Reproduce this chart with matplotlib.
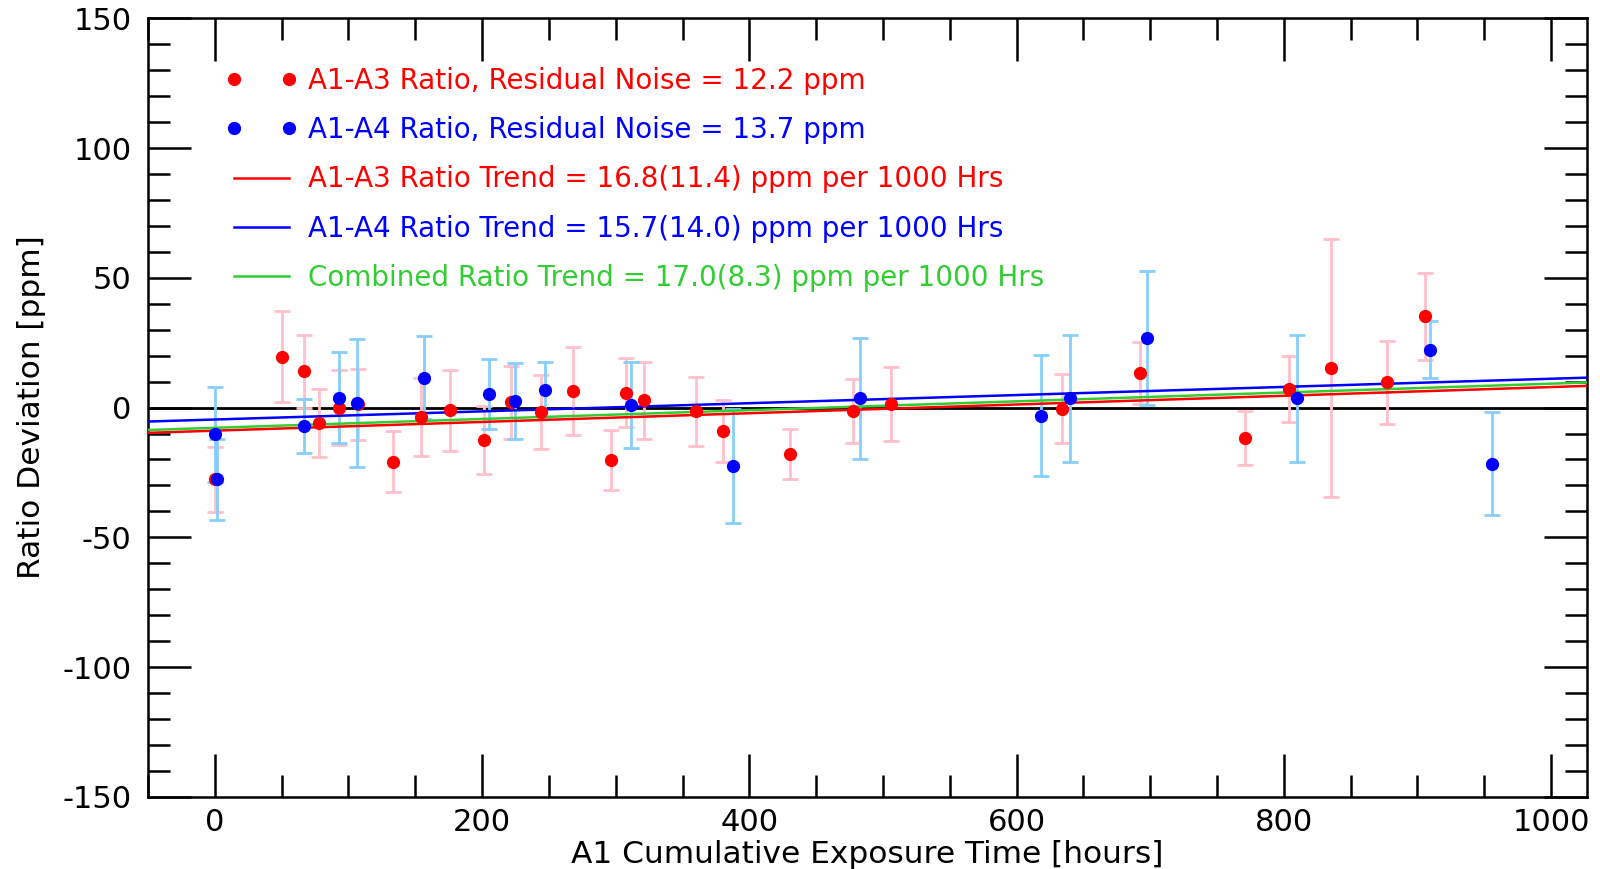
import matplotlib
matplotlib.use("Agg")
import matplotlib.pyplot as plt
import numpy as np
from matplotlib.ticker import MultipleLocator
from matplotlib.legend_handler import HandlerLine2D
from matplotlib.lines import Line2D

plt.rcParams['axes.unicode_minus'] = False

# A1-A3 ratio points (hours, ppm, 1-sigma)
a3_hours = [0.5, 50.4, 67.1, 77.8, 93.3, 107.0, 133.7, 154.4, 175.8, 201.3, 221.7,
            244.4, 268.1, 296.3, 307.5, 321.2, 359.9, 380.6, 430.5, 477.4, 506.0,
            633.7, 692.7, 770.6, 803.5, 835.6, 877.1, 905.3]
a3_dev = [-27.7, 19.6, 14.0, -5.9, 0.0, 1.3, -20.8, -3.7, -1.0, -12.5, 2.0,
          -1.7, 6.4, -20.2, 5.8, 2.8, -1.4, -9.1, -17.9, -1.4, 1.4,
          -0.4, 13.2, -11.7, 7.3, 15.3, 9.8, 35.1]
a3_err = [12.6, 17.6, 14.0, 13.0, 14.5, 13.7, 11.7, 15.0, 15.6, 13.0, 14.0,
          14.4, 17.0, 11.6, 13.3, 14.9, 13.3, 12.0, 9.6, 12.4, 14.2,
          13.4, 12.0, 10.3, 12.7, 49.6, 16.0, 16.6]

# A1-A4 ratio points
a4_hours = [0.5, 1.3, 66.4, 93.3, 106.2, 156.6, 205.0, 224.4, 247.4, 311.2,
            387.5, 483.1, 617.9, 639.7, 697.8, 810.2, 909.3, 955.9]
a4_dev = [-10.3, -27.7, -7.2, 3.8, 1.8, 11.4, 5.1, 2.5, 6.7, 1.0,
          -22.6, 3.5, -3.1, 3.5, 26.8, 3.5, 22.3, -21.6]
a4_err = [18.2, 15.7, 10.5, 17.5, 24.6, 16.0, 13.5, 14.5, 11.0, 16.5,
          22.0, 23.4, 23.3, 24.6, 25.7, 24.5, 11.1, 19.8]

# trend lines: intercept (ppm) and slope (ppm per hour)
trend_names = ["A1-A3", "A1-A4", "Combined"]
trend_intercept = [-8.9, -4.6, -7.8]
trend_slope = [0.0168, 0.0157, 0.0170]
trend_colors = ["red", "blue", "limegreen"]

legend_labels = [
    "A1-A3 Ratio, Residual Noise = 12.2 ppm",
    "A1-A4 Ratio, Residual Noise = 13.7 ppm",
    "A1-A3 Ratio Trend = 16.8(11.4) ppm per 1000 Hrs",
    "A1-A4 Ratio Trend = 15.7(14.0) ppm per 1000 Hrs",
    "Combined Ratio Trend = 17.0(8.3) ppm per 1000 Hrs",
]
legend_colors = ["red", "blue", "red", "blue", "limegreen"]

xmin, xmax = -50, 1027

fig = plt.figure(figsize=(16, 8.69), dpi=100)
ax = fig.add_axes([0.0925, 0.083, 0.8995, 0.896])

ax.axhline(0, color="black", lw=2, zorder=1)

ax.errorbar(a3_hours, a3_dev, yerr=a3_err, fmt="none", ecolor="pink",
            elinewidth=2, capsize=6, capthick=2, zorder=2)
ax.errorbar(a4_hours, a4_dev, yerr=a4_err, fmt="none", ecolor="lightskyblue",
            elinewidth=2, capsize=6, capthick=2, zorder=2)

xx = np.array([xmin, xmax])
trend_lines = []
for b, m, c in zip(trend_intercept, trend_slope, trend_colors):
    ln, = ax.plot(xx, b + m * xx, color=c, lw=1.8, zorder=3)
    trend_lines.append(ln)
pts3, = ax.plot(a3_hours, a3_dev, "o", color="red", ms=8.5, zorder=4)
pts4, = ax.plot(a4_hours, a4_dev, "o", color="blue", ms=8.5, zorder=5)

ax.set_xlim(xmin, xmax)
ax.set_ylim(-150, 150)
ax.xaxis.set_major_locator(MultipleLocator(200))
ax.xaxis.set_minor_locator(MultipleLocator(50))
ax.yaxis.set_major_locator(MultipleLocator(50))
ax.yaxis.set_minor_locator(MultipleLocator(10))
ax.tick_params(which="both", direction="in", top=True, right=True, width=1.8,
               labelsize=22)
ax.tick_params(axis="x", pad=8)
ax.tick_params(axis="y", pad=12)
ax.tick_params(which="major", length=31)
ax.tick_params(which="minor", length=16)
for s in ax.spines.values():
    s.set_linewidth(1.8)

ax.set_xlabel("A1 Cumulative Exposure Time [hours]", fontsize=22.5, labelpad=2)
ax.set_ylabel("Ratio Deviation [ppm]", fontsize=22.5, labelpad=12)

handles = [pts3, pts4] + trend_lines
leg = ax.legend(handles, legend_labels, loc="upper left",
                bbox_to_anchor=(0.0596, 0.938), frameon=False, fontsize=20,
                numpoints=2, handlelength=1.99, handletextpad=0.68,
                labelspacing=0.77, borderaxespad=0, borderpad=0,
                handler_map={Line2D: HandlerLine2D(marker_pad=0, numpoints=2)})
for txt, c in zip(leg.get_texts(), legend_colors):
    txt.set_color(c)

fig.savefig("out.png", dpi=100)
